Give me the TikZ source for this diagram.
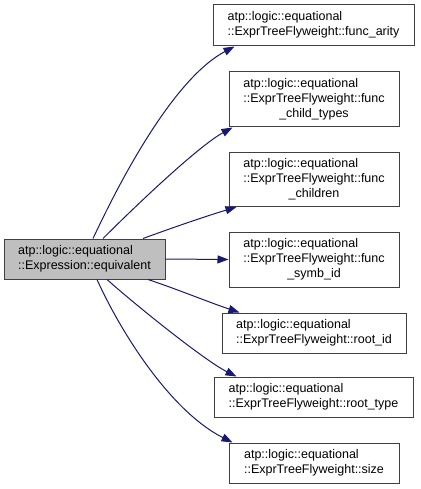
\documentclass[tikz,border=0pt]{standalone}
\usepackage{fontspec}
\setmainfont{Liberation Sans}
\usetikzlibrary{
    arrows.meta,         % For arrow tips
    positioning          % For relative placement
}
\definecolor{edgeblue}{HTML}{191970}
\definecolor{boxgray}{HTML}{BFBFBF}
\definecolor{boxline}{HTML}{404040}

% Stacked label: left-aligned lines, last line centred
\newcommand{\twolines}[2]{\begin{tabular}{@{}l@{}}#1\\#2\end{tabular}}
\newcommand{\threelines}[3]{\begin{tabular}{@{}l@{}}#1\\#2\\\multicolumn{1}{@{}c@{}}{#3}\end{tabular}}

\begin{document}
\begin{tikzpicture}[
    x=1pt, y=-1pt,
    member/.style={draw=boxline, line width=1pt, fill=white, inner sep=0pt,
        font=\fontsize{12.5}{15}\selectfont},
    caller/.style={member, fill=boxgray},
    call/.style={draw=edgeblue, line width=1pt,
        -{Triangle[length=11pt, width=8pt, fill=edgeblue]}}
]
    \useasboundingbox (0,0) rectangle (420,489);

    % Calling function (left)
    \node[caller, minimum width=161pt, minimum height=40pt] (equiv) at (84.5,259)
        {\twolines{atp::logic::equational}{::Expression::equivalent}};

    % Called members (right column)
    \node[member, minimum width=201pt, minimum height=41pt] (arity) at (313.5,25.5)
        {\twolines{atp::logic::equational}{::ExprTreeFlyweight::func\_arity}};
    \node[member, minimum width=170pt, minimum height=55pt] (childtypes) at (314,99.5)
        {\threelines{atp::logic::equational}{::ExprTreeFlyweight::func}{\_child\_types}};
    \node[member, minimum width=170pt, minimum height=54pt] (children) at (314,179.5)
        {\threelines{atp::logic::equational}{::ExprTreeFlyweight::func}{\_children}};
    \node[member, minimum width=170pt, minimum height=55pt] (symbid) at (314,259.5)
        {\threelines{atp::logic::equational}{::ExprTreeFlyweight::func}{\_symb\_id}};
    \node[member, minimum width=184pt, minimum height=40pt] (rootid) at (314,333)
        {\twolines{atp::logic::equational}{::ExprTreeFlyweight::root\_id}};
    \node[member, minimum width=199pt, minimum height=40pt] (roottype) at (313.5,397)
        {\twolines{atp::logic::equational}{::ExprTreeFlyweight::root\_type}};
    \node[member, minimum width=170pt, minimum height=40pt] (size) at (314,463)
        {\twolines{atp::logic::equational}{::ExprTreeFlyweight::size}};

    % Calls
    \draw[call] ([xshift=8.5pt]equiv.north) .. controls +(37,-79) and +(-55,29) .. ([xshift=22pt]arity.south west);
    \draw[call] ([xshift=18.5pt]equiv.north) .. controls +(37,-37) and +(-33,18) .. ([xshift=4pt]childtypes.south west);
    \draw[call] ([xshift=58.5pt]equiv.north) .. controls +(30,-11) and +(-30,9) .. ([xshift=8pt]children.south west);
    \draw[call] (equiv.east) -- (symbid.west);
    \draw[call] ([xshift=63.5pt]equiv.south) .. controls +(30,10) and +(-30,-10) .. ([xshift=18pt]rootid.north west);
    \draw[call] ([xshift=22.5pt]equiv.south) .. controls +(28,25) and +(-32,-16) .. ([xshift=23pt]roottype.north west);
    \draw[call] ([xshift=12.5pt]equiv.south) .. controls +(23,51) and +(-63,-32) .. ([xshift=4pt]size.north west);

\end{tikzpicture}
\end{document}
